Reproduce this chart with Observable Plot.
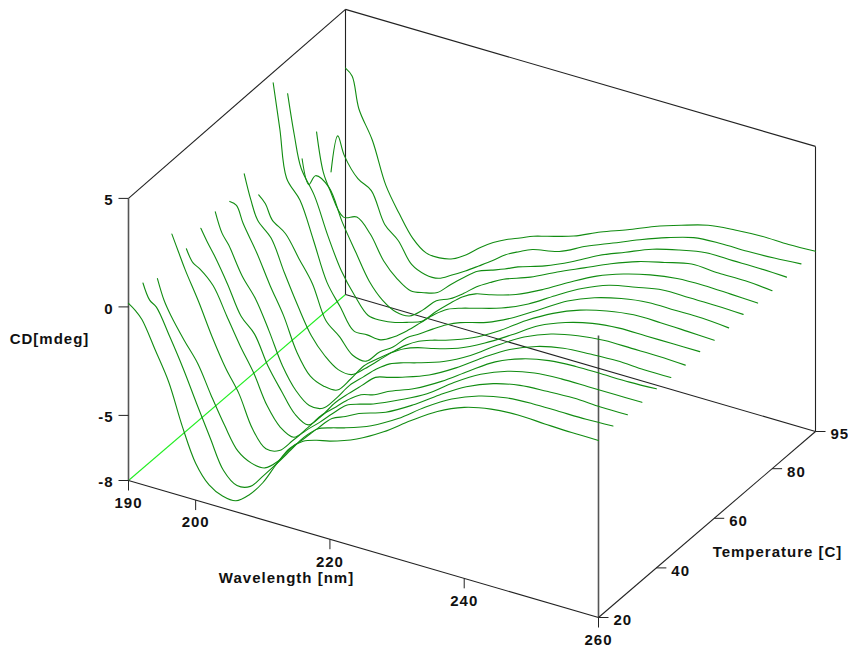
<!DOCTYPE html>
<html><head><meta charset="utf-8">
<script src="https://cdn.jsdelivr.net/npm/d3@7"></script>
<script src="https://cdn.jsdelivr.net/npm/@observablehq/plot@0.6"></script>
<style>html,body{margin:0;padding:0;background:#fff}svg{display:block}</style>
</head><body><div id="chart"></div>
<script>
const wavelengths=[190,191,192,194,196,198,200,202,204,206,208,210,212,214,216,218,220,224,228,232,236,240,244,248,252,256,260];
const temperatures=[20,25,30,35,40,45,50,55,60,65,70,75,80,85,90,95];
const cd20=[.16,-.07,-.40,-1.64,-2.93,-4.77,-6.30,-7.12,-7.45,-7.49,-7.03,-6.30,-5.28,-4.36,-3.85,-3.62,-3.48,-3.02,-2.33,-1.46,-.67,-.12,.16,.25,.20,.16,.16];
const cd25=[.53,-.17,-.40,-1.59,-2.88,-4.31,-5.70,-7.03,-7.54,-7.40,-6.71,-5.97,-5.19,-4.41,-3.85,-3.62,-3.44,-2.98,-2.29,-1.41,-.67,-.17,.11,.20,.20,.20,.25];
const cd30=[.16,-.76,-1.36,-2.33,-3.21,-4.50,-5.70,-6.71,-7.08,-7.12,-6.62,-5.83,-5.19,-4.54,-3.94,-3.67,-3.35,-2.93,-2.24,-1.41,-.67,-.17,.11,.20,.25,.20,.20];
const cd35=[1.63,.89,.16,-1.13,-2.56,-3.81,-4.82,-6.25,-6.99,-6.89,-6.25,-5.60,-5.05,-4.45,-3.90,-3.67,-3.48,-2.93,-2.29,-1.41,-.67,-.17,.11,.20,.20,.20,.20];
const cd40=[.39,-.17,-.35,-.95,-2.15,-3.35,-4.41,-5.74,-6.57,-6.85,-6.25,-5.51,-4.96,-4.41,-3.99,-3.81,-3.48,-2.98,-2.29,-1.46,-.67,-.17,.11,.20,.20,.20,.25];
const cd45=[.76,.20,-.30,-1.46,-2.75,-3.39,-4.68,-5.65,-6.53,-6.85,-6.25,-5.47,-4.87,-4.31,-3.76,-3.58,-3.39,-2.93,-2.24,-1.41,-.67,-.17,.11,.20,.25,.20,.20];
const cd50=[.94,.06,-.40,-1.64,-2.52,-3.81,-5.24,-6.20,-6.71,-6.66,-6.02,-5.24,-4.68,-4.13,-3.71,-3.48,-3.30,-2.88,-2.24,-1.41,-.67,-.17,.11,.25,.25,.25,.20];
const cd55=[.85,.76,.02,-1.13,-2.47,-3.67,-5.19,-6.11,-6.39,-6.39,-5.70,-4.91,-4.41,-3.95,-3.58,-3.35,-3.21,-2.84,-2.24,-1.50,-.72,-.21,.11,.25,.25,.25,.25];
const cd60=[1.54,.43,-.40,-1.04,-2.47,-3.81,-5.00,-5.74,-6.20,-6.25,-5.79,-5.24,-4.68,-4.18,-3.81,-3.58,-3.40,-2.93,-2.24,-1.41,-.72,-.21,.11,.29,.29,.25,.20];
const cd65=[.02,-.30,-.95,-1.41,-2.38,-3.35,-4.87,-5.42,-6.11,-6.20,-5.60,-5.19,-4.59,-4.22,-3.81,-3.44,-3.16,-2.79,-2.20,-1.46,-.72,-.21,.11,.29,.29,.29,.20];
const cd70=[4.53,2.51,.39,-.44,-2.10,-3.85,-4.82,-5.74,-5.74,-5.79,-5.47,-5.00,-4.45,-3.90,-3.48,-3.25,-3.07,-2.70,-2.15,-1.41,-.72,-.21,.06,.29,.29,.29,.25];
const cd75=[3.47,1.68,.29,-.81,-2.47,-3.90,-4.87,-5.60,-5.65,-5.56,-5.37,-5.14,-4.54,-3.99,-3.48,-3.16,-3.02,-2.65,-2.06,-1.36,-.72,-.26,.06,.25,.29,.25,.20];
const cd80=[-.03,-1.13,-.63,-.99,-2.42,-3.62,-4.77,-5.47,-5.83,-5.83,-5.37,-4.77,-4.50,-4.08,-3.58,-3.21,-2.88,-2.42,-1.82,-1.27,-.72,-.26,.06,.34,.29,.29,.20];
const cd85=[.62,-1.13,-1.87,-2.93,-2.75,-3.35,-4.41,-5.05,-5.42,-5.33,-5.14,-4.59,-4.08,-3.62,-3.39,-3.16,-2.88,-2.47,-1.92,-1.27,-.76,-.26,.06,.29,.29,.29,.25];
const cd90=[-1.78,-.03,-.86,-1.73,-2.10,-3.48,-4.04,-4.96,-5.24,-5.24,-4.91,-4.54,-4.13,-3.71,-3.25,-2.93,-2.65,-2.38,-1.78,-1.27,-.76,-.30,.06,.15,.15,.20,.29];
const cd95=[2.37,2.09,.71,-.53,-2.42,-3.55,-4.50,-5.00,-5.05,-4.91,-4.54,-4.04,-3.62,-3.30,-3.05,-2.79,-2.61,-2.24,-1.69,-1.23,-.72,-.30,.06,.20,.27,.25,.30];
const seriesCD=[cd20,cd25,cd30,cd35,cd40,cd45,cd50,cd55,cd60,cd65,cd70,cd75,cd80,cd85,cd90,cd95];
const wavelengthTicks=[190,200,220,240,260];
const temperatureTicks=[20,40,60,80,95];
const cdTicks=[-8,-5,0,5];

// oblique 3-D view: each data axis maps to a direction on the page
const view={ox:128,oy:480,lx:470,ly:137,tx:217,ty:-186,cd:21.7,backLift:3};
const L0=190,L1=260,T0=20,T1=95,C0=-8,C1=5;
const px=(l,t)=>view.ox+(l-L0)/(L1-L0)*view.lx+(t-T0)/(T1-T0)*view.tx;
const py=(l,t,c)=>view.oy+(l-L0)/(L1-L0)*view.ly+(t-T0)/(T1-T0)*view.ty-(c-C0)*view.cd
  -Math.max(c,0)/C1*view.backLift*(t-T0)/(T1-T0);
const P=(l,t,c)=>({l,t,c,x:px(l,t),y:py(l,t,c)});
const seg=(a,b)=>({x1:a.x,y1:a.y,x2:b.x,y2:b.y});

const curves=temperatures.flatMap((t,i)=>wavelengths.map((l,j)=>P(l,t,seriesCD[i][j])));
const frameThin=[
 seg(P(L0,T0,C0),P(L1,T0,C0)),
 seg(P(L1,T0,C0),P(L1,T1,C0)),
 seg(P(L0,T1,C0),P(L1,T1,C0)),
 seg(P(L0,T0,C1),P(L0,T1,C1)),
 seg(P(L0,T1,C1),P(L1,T1,C1)),
 seg(P(L0,T1,C0),P(L0,T1,C1)),
 seg(P(L1,T1,C0),P(L1,T1,C1))
];
const frameGray=[seg(P(L0,T0,C0),P(L0,T0,C1)),seg(P(L1,T0,C0),P(L1,T0,C1))];
const tickLen=10;
const wTicks=wavelengthTicks.map(l=>({...P(l,T0,C0),label:String(l)}));
const tTicks=temperatureTicks.map(t=>({...P(L1,t,C0),label:String(t)}));
const cTicks=cdTicks.map(c=>({...P(L0,T0,c),label:String(c)}));
const textOpts={fontFamily:"Liberation Sans",fontWeight:"bold",fontSize:15,fill:"#111"};

const chart=Plot.plot({
 width:848,height:647,margin:0,
 style:{letterSpacing:"1px"},
 x:{type:"linear",domain:[0,848],range:[0,848],axis:null},
 y:{type:"linear",domain:[0,647],range:[0,647],axis:null},
 marks:[
  Plot.link([seg(P(L0,T0,C0),P(L0,T1,C0))],{x1:"x1",y1:"y1",x2:"x2",y2:"y2",stroke:"#22ee22",strokeWidth:1.1}),
  Plot.link(frameGray,{x1:"x1",y1:"y1",x2:"x2",y2:"y2",stroke:"#555",strokeWidth:1.6}),
  Plot.link(frameThin,{x1:"x1",y1:"y1",x2:"x2",y2:"y2",stroke:"#222",strokeWidth:1.1}),
  Plot.link(wTicks,{x1:"x",y1:"y",x2:"x",y2:d=>d.y+tickLen,stroke:"#222",strokeWidth:1}),
  Plot.link(tTicks,{x1:"x",y1:"y",x2:d=>d.x+tickLen,y2:"y",stroke:"#222",strokeWidth:1}),
  Plot.link(cTicks,{x1:"x",y1:"y",x2:d=>d.x-tickLen,y2:"y",stroke:"#222",strokeWidth:1}),
  Plot.line(curves,{x:"x",y:"y",z:"t",stroke:"#118c11",strokeWidth:1.1,curve:"catmull-rom"}),
  Plot.text(wTicks,{x:"x",y:"y",text:"label",dy:22.5,textAnchor:"middle",...textOpts}),
  Plot.text(tTicks,{x:"x",y:"y",text:"label",dx:15,dy:3,textAnchor:"start",...textOpts}),
  Plot.text(cTicks,{x:"x",y:"y",text:"label",dx:-15,dy:2,textAnchor:"end",...textOpts}),
  Plot.text(["Wavelength [nm]"],{x:()=>286,y:()=>578,text:d=>d,textAnchor:"middle",...textOpts}),
  Plot.text(["Temperature [C]"],{x:()=>777,y:()=>552,text:d=>d,textAnchor:"middle",...textOpts}),
  Plot.text(["CD[mdeg]"],{x:()=>49,y:()=>339,text:d=>d,textAnchor:"middle",...textOpts})
 ]
});
document.getElementById("chart").appendChild(chart);
</script></body></html>
